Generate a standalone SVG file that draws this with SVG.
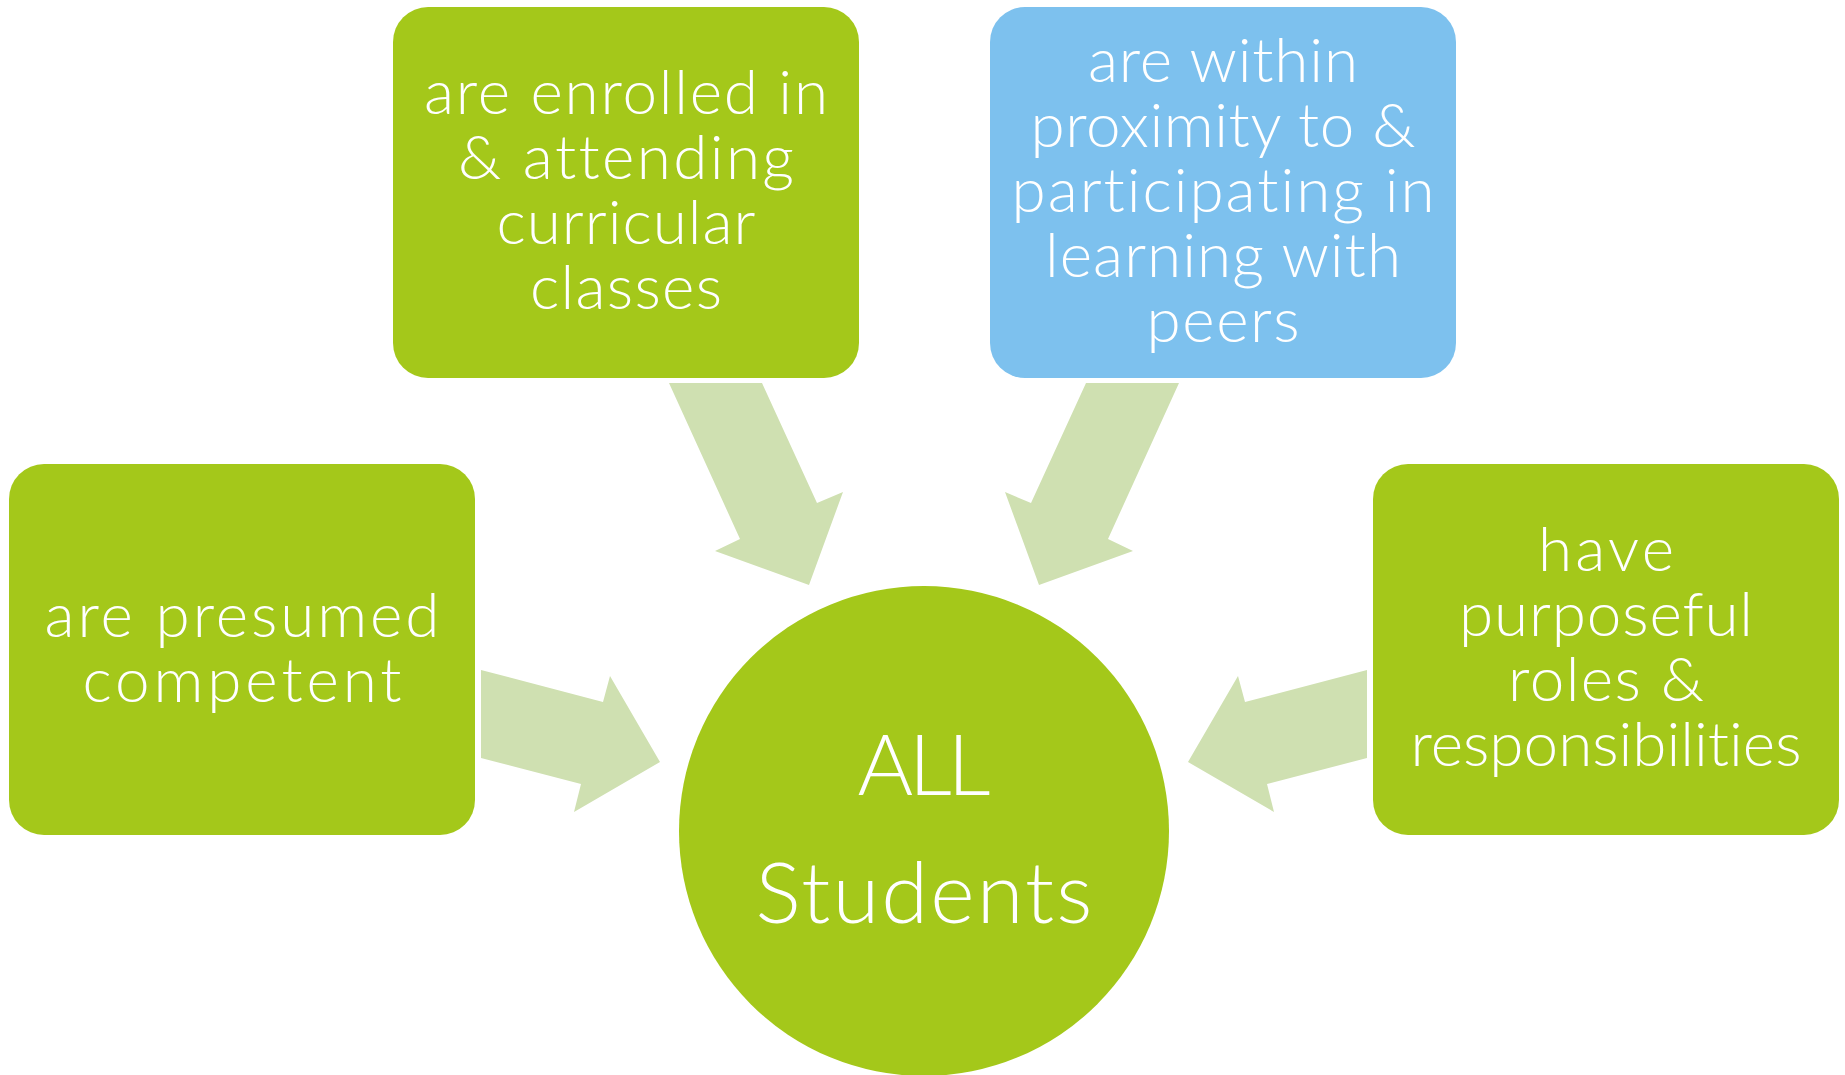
<svg xmlns="http://www.w3.org/2000/svg" width="1845" height="1075" viewBox="0 0 1845 1075">
<style>
.box{fill:#A4C81A}
.blue{fill:#7DC1EE}
.arrow{fill:#CFE0B1}
text{font-family:Lato,"Liberation Sans","DejaVu Sans",sans-serif;font-weight:300;fill:#FFFFFF;text-anchor:middle;font-variant-ligatures:none;font-feature-settings:"liga" 0,"clig" 0}
.t{font-size:62px}
.c{font-size:85px}
</style>
<rect width="1845" height="1075" fill="#FFFFFF"/>
<g id="connectors">
<polygon class="arrow" points="669,383 762,383 817,503 843,492 809,585 715,551 740,539"/>
<polygon class="arrow" points="1179,383 1086,383 1031,503 1005,492 1039,585 1133,551 1108,539"/>
<polygon class="arrow" points="481,670 603,702 610,676 660,762 574,812 581,784 481,758"/>
<polygon class="arrow" points="1367,670 1245,702 1238,676 1188,762 1274,812 1267,784 1367,758"/>
</g>
<g id="node-enrolled">
<rect class="box" x="393" y="7" width="466" height="371" rx="35" ry="35"/>
<text class="t" x="626" y="114" textLength="404" lengthAdjust="spacing">are enrolled in</text>
<text class="t" x="626" y="179" textLength="336" lengthAdjust="spacing">&amp; attending</text>
<text class="t" x="626" y="244" textLength="259" lengthAdjust="spacing">curricular</text>
<text class="t" x="626" y="309" textLength="192" lengthAdjust="spacing">classes</text>
</g>
<g id="node-proximity">
<rect class="blue" x="990" y="7" width="466" height="371" rx="35" ry="35"/>
<text class="t" x="1223" y="82" textLength="270" lengthAdjust="spacing">are within</text>
<text class="t" x="1223" y="147" textLength="385" lengthAdjust="spacing">proximity to &amp;</text>
<text class="t" x="1223" y="212" textLength="423" lengthAdjust="spacing">participating in</text>
<text class="t" x="1223" y="277" textLength="356" lengthAdjust="spacing">learning with</text>
<text class="t" x="1223" y="342" textLength="153" lengthAdjust="spacing">peers</text>
</g>
<g id="node-competent">
<rect class="box" x="9" y="464" width="466" height="371" rx="35" ry="35"/>
<text class="t" x="242" y="637" textLength="395" lengthAdjust="spacing">are presumed</text>
<text class="t" x="242" y="702" textLength="319" lengthAdjust="spacing">competent</text>
</g>
<g id="node-roles">
<rect class="box" x="1373" y="464" width="466" height="371" rx="35" ry="35"/>
<text class="t" x="1606" y="571" textLength="136" lengthAdjust="spacing">have</text>
<text class="t" x="1606" y="636" textLength="294" lengthAdjust="spacing">purposeful</text>
<text class="t" x="1606" y="701" textLength="196" lengthAdjust="spacing">roles &amp;</text>
<text class="t" x="1606" y="766" textLength="391" lengthAdjust="spacing">responsibilities</text>
</g>
<g id="node-all-students">
<circle class="box" cx="924" cy="831" r="245"/>
<text class="c" x="924" y="795" textLength="133" lengthAdjust="spacing">ALL</text>
<text class="c" x="924" y="923" textLength="337" lengthAdjust="spacing">Students</text>
</g>
</svg>
